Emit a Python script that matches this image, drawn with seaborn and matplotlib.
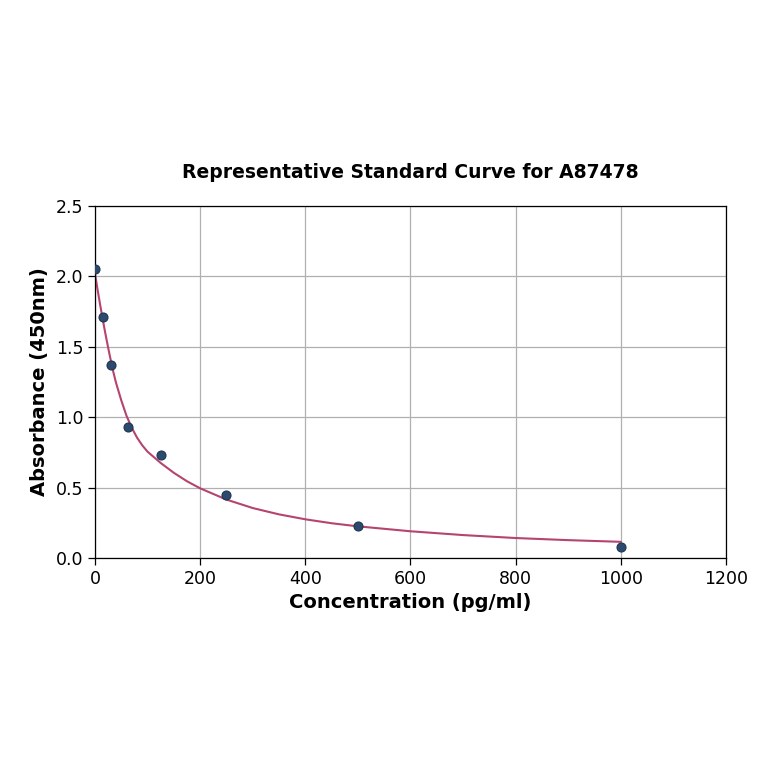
import numpy as np
import pandas as pd
import matplotlib
matplotlib.use('Agg')
import matplotlib.pyplot as plt
import seaborn as sns

# ── Data ──────────────────────────────────────────────────────────────────────
conc = [0, 15.6, 31.25, 62.5, 125, 250, 500, 1000]
absorb = [2.05, 1.71, 1.37, 0.93, 0.73, 0.45, 0.228, 0.078]

# fitted curve
curve_x = [0, 5, 10, 15, 20, 25, 30, 35, 40, 50, 60, 70, 80, 90, 100, 125,
           150, 175, 200, 250, 300, 350, 400, 450, 500, 600, 700, 800, 900, 1000]
curve_y = [2.02, 1.905, 1.795, 1.69, 1.59, 1.495, 1.405, 1.32, 1.245, 1.12,
           1.01, 0.925, 0.855, 0.80, 0.755, 0.675, 0.605, 0.545, 0.495, 0.415,
           0.355, 0.31, 0.275, 0.247, 0.225, 0.19, 0.163, 0.142, 0.127, 0.115]

x_ticks = [0, 200, 400, 600, 800, 1000, 1200]
y_ticks = [0.0, 0.5, 1.0, 1.5, 2.0, 2.5]

points = pd.DataFrame({'conc': conc, 'abs': absorb})
curve = pd.DataFrame({'conc': curve_x, 'abs': curve_y})

# ── Plot ──────────────────────────────────────────────────────────────────────
sns.set_style('ticks')
plt.rcParams['font.family'] = ['DejaVu Sans']
plt.rcParams['text.color'] = 'black'
plt.rcParams['axes.labelcolor'] = 'black'
plt.rcParams['xtick.color'] = 'black'
plt.rcParams['ytick.color'] = 'black'

fig = plt.figure(figsize=(7.64, 7.64), dpi=100)
ax = fig.add_axes([0.1243, 0.2696, 0.826, 0.4608])

sns.lineplot(data=curve, x='conc', y='abs', ax=ax, color='#b5446e',
             linewidth=1.5, zorder=2)
sns.scatterplot(data=points, x='conc', y='abs', ax=ax, color='#2c4a6e',
                edgecolor='#1f3550', linewidth=0.8, s=42, zorder=3)

ax.set_xlim(0, 1200)
ax.set_ylim(0, 2.5)
ax.set_xticks(x_ticks)
ax.set_yticks(y_ticks)
ax.set_yticklabels([f'{v:.1f}' for v in y_ticks])
ax.grid(True, color='#b0b0b0', linewidth=0.9)
ax.set_axisbelow(True)
for s in ax.spines.values():
    s.set_visible(True)
    s.set_color('black')
    s.set_linewidth(0.9)
ax.tick_params(labelsize=12.5, length=5, width=0.9, direction='out')

ax.set_title('Representative Standard Curve for A87478', fontsize=13.5,
             fontweight='bold', pad=20)
ax.set_xlabel('Concentration (pg/ml)', fontsize=14, fontweight='bold', labelpad=4)
ax.set_ylabel('Absorbance (450nm)', fontsize=14, fontweight='bold', labelpad=4.5)

fig.savefig('out.png', dpi=100)
